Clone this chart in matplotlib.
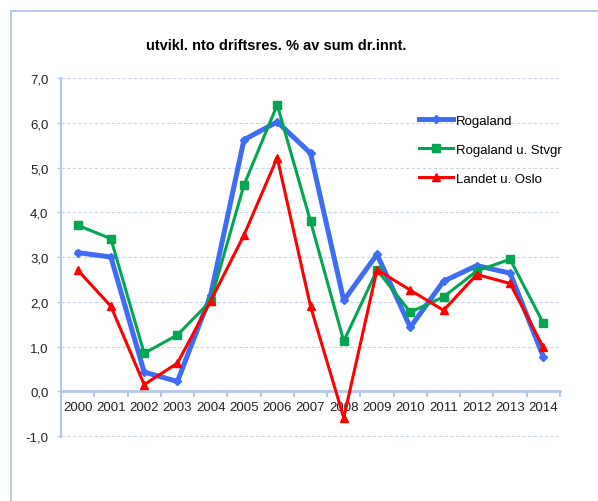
import matplotlib
matplotlib.use("Agg")
import matplotlib.pyplot as plt
from matplotlib.patches import Rectangle
from matplotlib.ticker import FuncFormatter, MultipleLocator

plt.rcParams['font.family'] = ['Liberation Sans', 'DejaVu Sans']

years = ["2000", "2001", "2002", "2003", "2004", "2005", "2006", "2007",
         "2008", "2009", "2010", "2011", "2012", "2013", "2014"]
rogaland = [3.1, 3.0, 0.43, 0.22, 2.15, 5.62, 6.02, 5.32, 2.03, 3.06, 1.43, 2.46, 2.81, 2.64, 0.77]
rogaland_u_stvgr = [3.71, 3.41, 0.85, 1.26, 2.02, 4.61, 6.4, 3.8, 1.12, 2.71, 1.77, 2.11, 2.69, 2.95, 1.52]
landet_u_oslo = [2.71, 1.9, 0.15, 0.63, 2.02, 3.49, 5.22, 1.9, -0.59, 2.72, 2.26, 1.81, 2.61, 2.41, 0.98]

axis_col = "#b4c7e7"
grid_col = "#c5d3ec"

fig = plt.figure(figsize=(5.98, 5.02), dpi=100)
ax = fig.add_axes([61 / 598, 1 - 438 / 502, 499 / 598, 359 / 502])

x = list(range(len(years)))
ax.plot(x, rogaland, color="#3d6cf5", lw=3.6, marker="D", ms=4, label="Rogaland", zorder=3)
ax.plot(x, rogaland_u_stvgr, color="#00a651", lw=2.2, marker="s", ms=6, label="Rogaland u. Stvgr", zorder=4)
ax.plot(x, landet_u_oslo, color="#ff0000", lw=2.2, marker="^", ms=6, label="Landet u. Oslo", zorder=5)

ax.set_xlim(-0.5, len(years) - 0.5)
ax.set_ylim(-1.02, 7)
ax.yaxis.set_major_locator(MultipleLocator(1))
ax.yaxis.set_major_formatter(FuncFormatter(lambda v, p: f"{v:.1f}".replace(".", ",")))
ax.set_xticks(x)
ax.set_xticklabels(years)
ax.set_xticks([i - 0.5 for i in range(len(years) + 1)], minor=True)
ax.tick_params(axis="x", which="major", length=0, pad=7, labelsize=9.5, colors="#222222")
ax.tick_params(axis="x", which="minor", length=4, width=1.5, color=axis_col)
ax.tick_params(axis="y", length=3, width=1, color=axis_col, labelsize=9.5, labelcolor="#222222", pad=6)

ax.grid(axis="y", color=grid_col, ls=(0, (3, 2)), lw=0.8)
ax.set_axisbelow(True)
for s in ["top", "right"]:
    ax.spines[s].set_visible(False)
ax.spines["bottom"].set_position(("data", 0))
ax.spines["bottom"].set_color(axis_col)
ax.spines["bottom"].set_linewidth(2)
ax.spines["left"].set_color(axis_col)
ax.spines["left"].set_linewidth(1.5)

fig.text(276 / 598, 1 - 46 / 502, "utvikl. nto driftsres. % av sum dr.innt.", ha="center", va="center",
         fontsize=10.5, fontweight="bold")

ax.legend(loc="upper left", bbox_to_anchor=(407 / 598, 1 - 104 / 502), bbox_transform=fig.transFigure,
          frameon=False, fontsize=9.5, handlelength=2.6, handletextpad=0.2, labelspacing=1.25)

fig.patches.append(Rectangle((11 / 598, -0.1), 2, 1 - 12 / 502 + 0.1, transform=fig.transFigure,
                             fill=False, ec="#a9bfe8", lw=1.2))

fig.savefig("out.png", dpi=100)
